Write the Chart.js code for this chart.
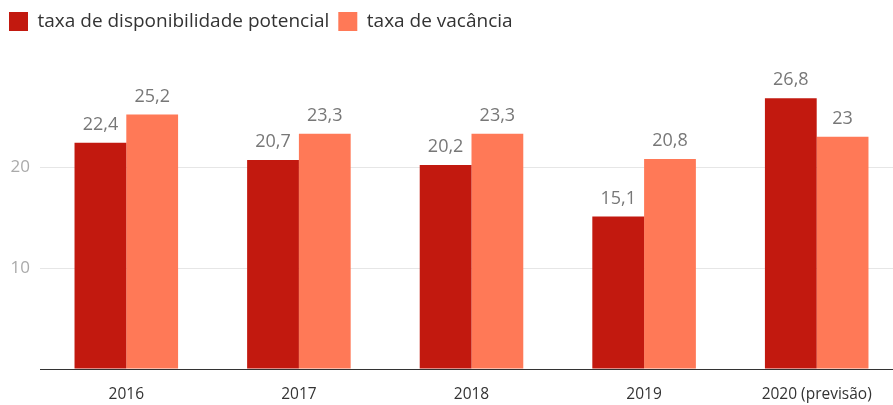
<!DOCTYPE html>
<html>
<head>
<meta charset="utf-8">
<script src="https://cdn.jsdelivr.net/npm/chart.js@4/dist/chart.umd.min.js"></script>
<style>
  html, body { margin: 0; padding: 0; background: #fff; overflow: hidden; }
  #wrap { width: 903px; height: 405px; }
</style>
</head>
<body>
<div id="wrap"><canvas id="myChart"></canvas></div>
<script>
// chart values
const categories = ['2016', '2017', '2018', '2019', '2020 (previsão)'];
const disponibilidade = [22.4, 20.7, 20.2, 15.1, 26.8];
const vacancia = [25.2, 23.3, 23.3, 20.8, 23];
const seriesNames = ['taxa de disponibilidade potencial', 'taxa de vacância'];

const FONT = "'Open Sans', sans-serif";

const fmt = (v) => String(v).replace('.', ',');

// Draw the value above each bar
const valueLabels = {
  id: 'valueLabels',
  afterDatasetsDraw(chart) {
    const ctx = chart.ctx;
    ctx.save();
    ctx.font = `18px ${FONT}`;
    ctx.fillStyle = '#777777';
    ctx.textAlign = 'center';
    ctx.textBaseline = 'bottom';
    chart.data.datasets.forEach((ds, i) => {
      chart.getDatasetMeta(i).data.forEach((bar, j) => {
        ctx.fillText(fmt(ds.data[j]), bar.x, bar.y - 9);
      });
    });
    ctx.restore();
  },
};

// Give the legend a fixed height so the plot starts lower
const legendHeight = {
  id: 'legendHeight',
  beforeInit(chart) {
    const fit = chart.legend.fit;
    chart.legend.fit = function () {
      fit.call(this);
      this.height = 63;
    };
  },
};

const chartContext = document.getElementById('myChart').getContext('2d');

const chart = new Chart(chartContext, {
  type: 'bar',
  data: {
    labels: categories,
    datasets: [
      { label: seriesNames[0], data: disponibilidade, backgroundColor: '#c2190f' },
      { label: seriesNames[1], data: vacancia, backgroundColor: '#ff7957' },
    ],
  },
  options: {
    responsive: true,
    maintainAspectRatio: false,
    animation: false,
    layout: { padding: { top: 3, left: 0, right: 0, bottom: 0 } },
    datasets: { bar: { categoryPercentage: 0.6, barPercentage: 1.0 } },
    plugins: {
      tooltip: { enabled: false },
      legend: {
        position: 'top',
        align: 'start',
        labels: {
          boxWidth: 19,
          boxHeight: 19,
          padding: 9,
          color: '#333333',
          font: { family: FONT, size: 19 },
        },
      },
    },
    scales: {
      x: {
        afterFit: (scale) => { scale.height = 36; },
        grid: { display: false, drawTicks: false },
        border: { display: true, color: '#333333', width: 1 },
        ticks: { color: '#333333', padding: 16, font: { family: FONT, size: 15.5 } },
      },
      y: {
        min: 0,
        max: 30,
        afterFit: (scale) => { scale.width = 40; },
        border: { display: false },
        grid: {
          drawTicks: false,
          color: (c) => (c.tick && (c.tick.value === 10 || c.tick.value === 20) ? '#e6e6e6' : 'rgba(0,0,0,0)'),
        },
        ticks: {
          stepSize: 10,
          padding: 10,
          color: '#aaaaaa',
          font: { family: FONT, size: 17 },
          callback: (v) => (v === 10 || v === 20 ? v : ''),
        },
      },
    },
  },
  plugins: [valueLabels, legendHeight],
});
</script>
</body>
</html>
